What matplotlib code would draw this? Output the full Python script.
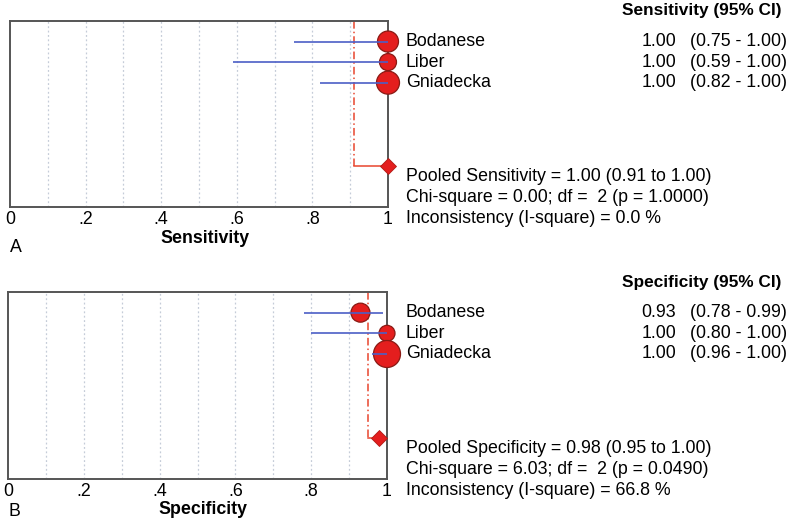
import matplotlib
matplotlib.use("Agg")
import matplotlib.pyplot as plt
import matplotlib.transforms as mtransforms

plt.rcParams['font.family'] = ['Liberation Sans', 'DejaVu Sans']

studies = ["Bodanese", "Liber", "Gniadecka"]

sens = [1.00, 1.00, 1.00]
sens_lo = [0.75, 0.59, 0.82]
sens_hi = [1.00, 1.00, 1.00]
sens_weight = [21, 17, 23]          # marker diameter (px) ~ study weight
pooled_sens = [1.00, 0.91, 1.00]
sens_stats = ["Pooled Sensitivity = 1.00 (0.91 to 1.00)",
              "Chi-square = 0.00; df =  2 (p = 1.0000)",
              "Inconsistency (I-square) = 0.0 %"]

spec = [0.93, 1.00, 1.00]
spec_lo = [0.78, 0.80, 0.96]
spec_hi = [0.99, 1.00, 1.00]
spec_weight = [19, 16, 27]
pooled_spec = [0.98, 0.95, 1.00]
spec_stats = ["Pooled Specificity = 0.98 (0.95 to 1.00)",
              "Chi-square = 6.03; df =  2 (p = 0.0490)",
              "Inconsistency (I-square) = 66.8 %"]

xticks = [0, 0.2, 0.4, 0.6, 0.8, 1.0]
xticklabels = ["0", ".2", ".4", ".6", ".8", "1"]

W, H = 800, 523
fig = plt.figure(figsize=(W / 100, H / 100), dpi=100)

RED = "#e41e1e"
EDGE = "#8a1a14"
BLUE = "#4c5fc6"
DASH = "#e8452e"
FS = 12.8


def panel(rect, vals, lo, hi, weights, pooled, stats, header, xlabel, letter,
          header_y_px, label_y_px, xlabel_y_px):
    ax = fig.add_axes(rect)
    rows = [1, 2, 3]
    py = 7.05
    ax.set_xlim(0, 1)
    ax.set_ylim(9.05, 0)
    for g in [0.1, 0.2, 0.3, 0.4, 0.5, 0.6, 0.7, 0.8, 0.9]:
        ax.axvline(g, color="#c5ccd8", lw=0.9, ls=(0, (1.5, 2)), zorder=0)
    # pooled CI guide lines
    ax.plot([pooled[1], pooled[1]], [0, py], color=DASH, lw=1.1, ls=(0, (5, 2, 1, 2)), zorder=2)
    ax.plot([pooled[2], pooled[2]], [0, py], color="#a0302a", lw=1.0, ls=(0, (4, 2)), zorder=2)
    ax.plot([pooled[1], pooled[2]], [py, py], color=DASH, lw=1.1, zorder=2)
    sizes = [(d * 0.72) ** 2 for d in weights]
    ax.scatter(vals, rows, s=sizes, color=RED, edgecolor=EDGE, linewidth=0.9, zorder=3, clip_on=False)
    for r, l, h in zip(rows, lo, hi):
        ax.plot([l, h], [r, r], color=BLUE, lw=1.2, zorder=4, solid_capstyle="butt")
    ax.plot([pooled[0]], [py], marker="D", ms=7.8, color=RED, mec="#b01a14", mew=0.6,
            zorder=5, clip_on=False)
    for s in ax.spines.values():
        s.set_color("#555555")
        s.set_linewidth(1.4)
    ax.set_yticks([])
    ax.set_xticks(xticks)
    ax.set_xticklabels(xticklabels, fontsize=FS)
    ax.tick_params(axis="x", length=0, pad=3)
    fig.text((rect[0] * W + 195) / W, 1 - xlabel_y_px / H, xlabel, fontsize=FS,
             fontweight="bold", ha="center", va="center")

    tr = mtransforms.blended_transform_factory(fig.transFigure, ax.transData)
    for r, name, v, l, h in zip(rows, studies, vals, lo, hi):
        ax.text(406 / W, r, name, transform=tr, fontsize=FS, va="center", ha="left")
        ax.text(676 / W, r, f"{v:.2f}", transform=tr, fontsize=FS, va="center", ha="right")
        ax.text(787 / W, r, f"({l:.2f} - {h:.2f})", transform=tr, fontsize=FS, va="center", ha="right")
    for i, s in enumerate(stats):
        ax.text(406 / W, py + 0.5 + i * 1.03, s, transform=tr, fontsize=FS, va="center", ha="left")
    fig.text(702 / W, 1 - header_y_px / H, header, fontsize=FS - 0.4, fontweight="bold",
             ha="center", va="center")
    fig.text(rect[0], 1 - label_y_px / H, letter, fontsize=FS, ha="left", va="center")
    return ax


panel([10 / W, 1 - 207 / H, 378 / W, 186 / H], sens, sens_lo, sens_hi, sens_weight,
      pooled_sens, sens_stats, "Sensitivity (95% CI)", "Sensitivity", "A", 11, 247, 239)
panel([8 / W, 1 - 479 / H, 379 / W, 187 / H], spec, spec_lo, spec_hi, spec_weight,
      pooled_spec, spec_stats, "Specificity (95% CI)", "Specificity", "B", 283, 511, 510)

fig.savefig("out.png", dpi=100)
